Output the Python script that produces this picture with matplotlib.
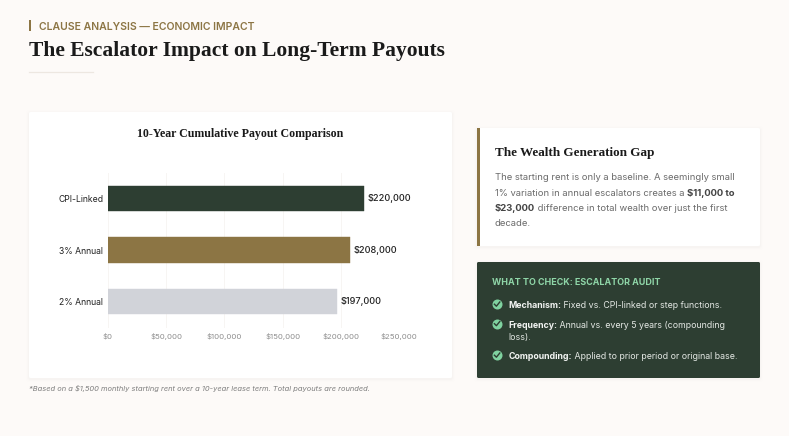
import matplotlib
matplotlib.use('Agg')
import matplotlib.pyplot as plt
from matplotlib.patches import FancyBboxPatch, Rectangle

categories = ['CPI-Linked', '3% Annual', '2% Annual']
payouts = [220000, 208000, 197000]
bar_colors = ['#2D3E32', '#8C7544', '#D1D3D9']
x_ticks = [0, 50000, 100000, 150000, 200000, 250000]
x_tick_labels = ['$0', '$50,000', '$100,000', '$150,000', '$200,000', '$250,000']

W, H = 789, 436
SERIF = 'Liberation Serif'
SANS = 'Inter'

plt.rcParams['font.family'] = [SANS, 'DejaVu Sans']

fig = plt.figure(figsize=(W / 100, H / 100), dpi=100, facecolor='#FDFAF8')

# page layer works in pixels, y going down
page = fig.add_axes([0, 0, 1, 1], zorder=0)
page.set_xlim(0, W)
page.set_ylim(H, 0)
page.axis('off')


def px(size):
    return size * 0.72


def card(x0, y0, x1, y1, color, radius=1.5):
    for grow, alpha in [(3, 0.005), (2, 0.007), (1, 0.01)]:
        page.add_patch(FancyBboxPatch((x0 - grow, y0 - grow + 1), x1 - x0 + 2 * grow, y1 - y0 + 2 * grow,
                                      boxstyle='round,pad=0,rounding_size=3', fc='black', ec='none', alpha=alpha))
    page.add_patch(FancyBboxPatch((x0, y0), x1 - x0, y1 - y0, boxstyle=f'round,pad=0,rounding_size={radius}',
                                  fc=color, ec='none'))


def runs(x, y, parts, size, color, bold_color=None):
    # one line made of normal and bold pieces
    rend = fig.canvas.get_renderer()
    for s, bold in parts:
        t = page.text(x, y, s, fontsize=size, va='center', ha='left',
                      color=(bold_color or color) if bold else color,
                      fontweight='bold' if bold else 'normal')
        x = page.transData.inverted().transform(t.get_window_extent(rend))[1][0]


# header
page.add_patch(Rectangle((29, 20), 2.2, 11, fc='#8C7544', ec='none'))
page.text(39, 26.5, 'CLAUSE ANALYSIS — ECONOMIC IMPACT', fontsize=px(10.5), fontweight='semibold',
          color='#8C7544', va='center')
page.text(29, 51, 'The Escalator Impact on Long-Term Payouts', fontsize=px(21.5), fontweight='bold',
          family=SERIF, color='#1A1A1A', va='center')
page.plot([29, 93], [72.5, 72.5], color='#EDE7E1', lw=0.9)

# chart card
card(29, 112, 452, 378, '#FFFFFF')
page.text(240.5, 133.5, '10-Year Cumulative Payout Comparison', fontsize=px(11.9), fontweight='bold',
          family=SERIF, color='#1A1A1A', ha='center', va='center')
page.text(29, 388, '*Based on a $1,500 monthly starting rent over a 10-year lease term. Total payouts are rounded.',
          fontsize=px(7.5), style='italic', color='#7E7E7E', va='center')

# the chart itself
ax = fig.add_axes([108 / W, 1 - 327.5 / H, (399 - 108) / W, (327.5 - 172.5) / H], zorder=2)
ax.patch.set_alpha(0)
ypos = list(range(len(categories)))
ax.barh(ypos, payouts, height=0.49, color=bar_colors, edgecolor=bar_colors, linewidth=0.3,
        joinstyle='round', zorder=3)
ax.set_xlim(0, 250000)
ax.set_ylim(2.5, -0.5)
ax.set_xticks(x_ticks, x_tick_labels)
ax.set_yticks(ypos, categories)
ax.tick_params(axis='x', length=0, pad=4, labelsize=px(7.8), labelcolor='#8E8E8E')
ax.tick_params(axis='y', length=0, pad=3.5, labelsize=px(8.65), labelcolor='#222222')
ax.grid(axis='x', color='#F7F5F3', lw=0.7, zorder=0)
for s in ax.spines.values():
    s.set_visible(False)
for y, v in zip(ypos, payouts):
    ax.annotate(f'${v:,}', (v, y), xytext=(2.2, 0), textcoords='offset points', va='center',
                fontsize=px(9.2), fontweight='medium', color='#222222')

# wealth gap panel
card(477, 128, 760, 246, '#FFFFFF')
page.add_patch(Rectangle((477, 128), 2.6, 118, fc='#8C7544', ec='none', zorder=3))
page.text(495, 153, 'The Wealth Generation Gap', fontsize=px(13.1), fontweight='bold', family=SERIF,
          color='#1A1A1A', va='center')
body = '#6B6B6B'
runs(495, 177, [('The starting rent is only a baseline. A seemingly small', False)], px(9.45), body)
runs(495, 193, [('1% variation in annual escalators creates a ', False), ('$11,000 to', True)], px(9.45), body, '#444444')
runs(495, 208.5, [('$23,000', True), (' difference in total wealth over just the first', False)], px(9.45), body, '#444444')
runs(495, 223, [('decade.', False)], px(9.45), body)

# audit panel
card(477, 262, 760, 378, '#2D3E32')
page.text(492, 282, 'WHAT TO CHECK: ESCALATOR AUDIT', fontsize=px(8.95), fontweight='bold', color='#8FD6A8',
          va='center')
light = '#E4E8E4'
runs(508.5, 305, [('Mechanism:', True), (' Fixed vs. CPI-linked or step functions.', False)], px(8.83), light, '#F2F4F2')
runs(508.5, 325, [('Frequency:', True), (' Annual vs. every 5 years (compounding', False)], px(8.83), light, '#F2F4F2')
runs(508.5, 337.5, [('loss).', False)], px(8.83), light)
runs(508.5, 356, [('Compounding:', True), (' Applied to prior period or original base.', False)], px(8.83), light, '#F2F4F2')

# check icons
for cy in [304, 323.5, 355]:
    page.scatter([497], [cy], s=52, color='#7FD3A0', linewidths=0, zorder=3)
    page.plot([494.4, 496.4, 499.8], [cy + 0.2, cy + 2.2, cy - 2], color='#2D3E32', lw=1, zorder=4)

fig.savefig('out.png', dpi=100, facecolor=fig.get_facecolor())
